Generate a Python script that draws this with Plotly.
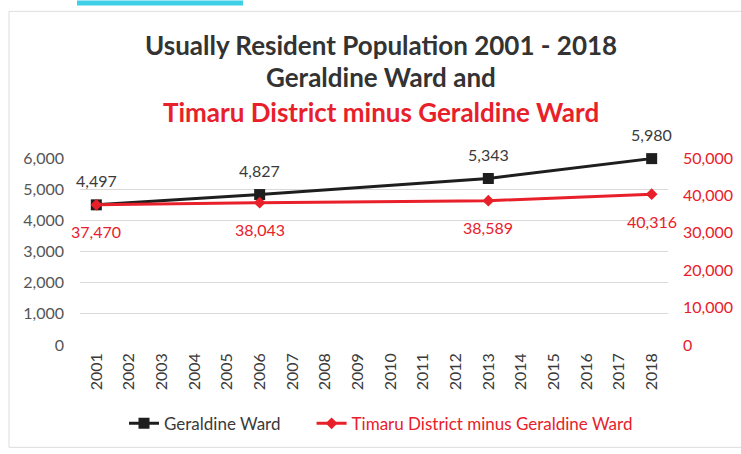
"""Usually resident population chart, Geraldine Ward vs rest of Timaru District."""

import plotly.graph_objects as go

YEARS = list(range(2001, 2019))
CENSUS_YEARS = [2001, 2006, 2013, 2018]
GERALDINE = [4497, 4827, 5343, 5980]
TIMARU_MINUS = [37470, 38043, 38589, 40316]

LEFT_TICKS = [0, 1000, 2000, 3000, 4000, 5000, 6000]
RIGHT_TICKS = [0, 10000, 20000, 30000, 40000, 50000]

TITLE_LINES = [
    "Usually Resident Population 2001 - 2018",
    "Geraldine Ward and",
    "Timaru District minus Geraldine Ward",
]

BLACK = "#1e1e1e"
RED = "#e8202a"
TEXT_GREY = "#3a3a3a"
FONT = "Lato, 'Open Sans', sans-serif"

# plot area is 80..668 px wide, 158..348 px high
PLOT_L, PLOT_R, PLOT_T, PLOT_B = 80, 668, 158, 348


def px_x(x):
    return (x - PLOT_L) / (PLOT_R - PLOT_L)


def px_y(y):
    return (PLOT_B - y) / (PLOT_B - PLOT_T)


fig = go.Figure()

fig.add_trace(go.Scatter(
    x=CENSUS_YEARS,
    y=GERALDINE,
    mode="lines+markers",
    # trailing no-break spaces widen the gap to the next legend entry
    name="Geraldine Ward" + "\u00a0" * 6,
    line=dict(color=BLACK, width=3),
    marker=dict(symbol="square", size=11, color=BLACK),
    cliponaxis=False,
    yaxis="y",
))

fig.add_trace(go.Scatter(
    x=CENSUS_YEARS,
    y=TIMARU_MINUS,
    mode="lines+markers",
    name=f"<span style='color:{RED}'>Timaru District minus Geraldine Ward</span>",
    line=dict(color=RED, width=3),
    marker=dict(symbol="diamond", size=9, color=RED),
    cliponaxis=False,
    yaxis="y2",
))

# data labels, pushed a bit further from the points than plotly's text does
annotations = [
    dict(x=yr, y=v, xref="x", yref="y", text=f"{v:,}", yshift=24,
         showarrow=False, font=dict(size=16, color=TEXT_GREY))
    for yr, v in zip(CENSUS_YEARS, GERALDINE)
] + [
    dict(x=yr, y=v, xref="x", yref="y2", text=f"{v:,}", yshift=-27,
         showarrow=False, font=dict(size=16, color=RED))
    for yr, v in zip(CENSUS_YEARS, TIMARU_MINUS)
]

title_colors = ["#333333", "#333333", RED]
title_y = [43, 76, 111]
annotations += [
    dict(
        text=f"<b>{line}</b>",
        xref="paper", yref="paper",
        x=px_x(381), y=px_y(ty),
        xanchor="center", yanchor="middle",
        showarrow=False,
        font=dict(family=FONT, size=26, color=col),
    )
    for line, col, ty in zip(TITLE_LINES, title_colors, title_y)
]

fig.update_layout(
    width=741,
    height=454,
    paper_bgcolor="white",
    plot_bgcolor="white",
    font=dict(family=FONT, size=13, color=TEXT_GREY),
    margin=dict(l=PLOT_L, r=741 - PLOT_R, t=PLOT_T, b=454 - PLOT_B),
    showlegend=True,
    annotations=annotations,
    xaxis=dict(
        range=[2000.5, 2018.5],
        tickvals=YEARS,
        ticktext=[str(y) for y in YEARS],
        tickangle=-90,
        tickfont=dict(size=16, color=TEXT_GREY),
        showgrid=False,
        zeroline=False,
        showline=False,
        ticks="",
        automargin=False,
        ticklabelstandoff=4,
    ),
    yaxis=dict(
        range=[0, 6000],
        tickvals=LEFT_TICKS,
        tickformat=",",
        tickfont=dict(size=16, color="#555555"),
        gridcolor="#d9d9d9",
        zeroline=False,
        showline=False,
        automargin=False,
        ticklabelstandoff=15,
    ),
    yaxis2=dict(
        range=[0, 50000],
        tickvals=RIGHT_TICKS,
        tickformat=",",
        overlaying="y",
        side="right",
        tickfont=dict(size=16, color=RED),
        showgrid=False,
        zeroline=False,
        showline=False,
        automargin=False,
        ticklabelstandoff=14,
    ),
    legend=dict(
        orientation="h",
        x=px_x(381), xanchor="center",
        y=px_y(428), yanchor="middle",
        font=dict(size=17, color=TEXT_GREY),
    ),
    shapes=[
        dict(
            type="rect", xref="paper", yref="paper",
            x0=px_x(9), x1=px_x(760), y0=px_y(452), y1=px_y(9),
            line=dict(color="#dddddd", width=1),
        ),
        dict(
            type="rect", xref="paper", yref="paper",
            x0=px_x(77), x1=px_x(243), y0=px_y(3), y1=px_y(-2),
            line=dict(width=0), fillcolor="#3fd0e8",
        ),
    ],
)

# drop the browser's default body margin so the figure sits at 0,0
fig.write_html(
    "out.html",
    config={"displayModeBar": False},
    post_script="document.body.style.margin = '0';",
)
